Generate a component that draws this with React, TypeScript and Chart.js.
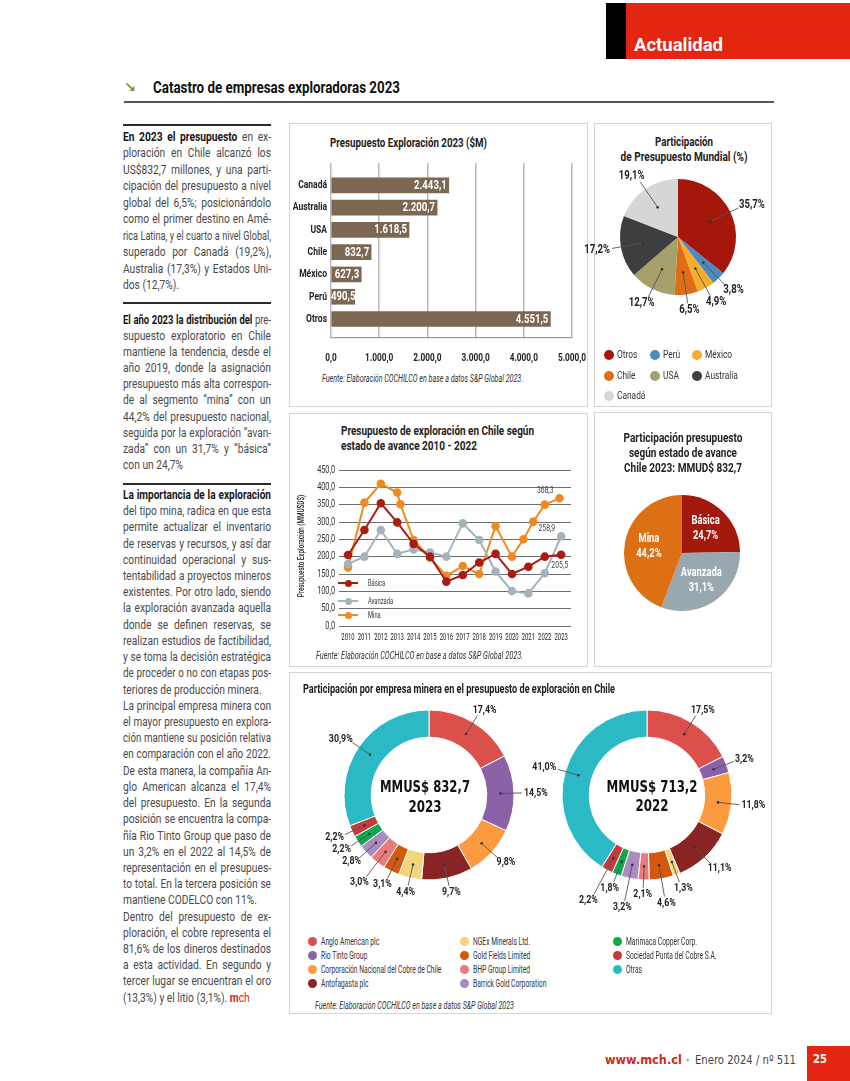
import React, { useEffect, useRef } from "react";
import { Chart, registerables } from "chart.js";
Chart.register(...registerables);

// ---------------- DATA ----------------
const barCountries = ["Canadá", "Australia", "USA", "Chile", "México", "Perú", "Otros"];
const barValues = [2443.1, 2200.7, 1618.5, 832.7, 627.3, 490.5, 4551.5];
const barTicks = [0, 1000, 2000, 3000, 4000, 5000];

const worldLabels = ["Otros", "Perú", "México", "Chile", "USA", "Australia", "Canadá"];
const worldShares = [35.7, 3.8, 4.9, 6.5, 12.7, 17.2, 19.1];
const worldColors = ["#a5170b", "#4a8bc3", "#f5ae2c", "#df6d18", "#a6a06b", "#3e3e3e", "#d6d6d6"];

const lineYears = [2010, 2011, 2012, 2013, 2014, 2015, 2016, 2017, 2018, 2019, 2020, 2021, 2022, 2023];
const basicaValues = [205, 277, 354, 299, 237, 200, 128, 147, 183, 208, 150, 171, 200, 205.5];
const avanzadaValues = [179, 200, 277, 208, 221, 212, 200, 296, 248, 157, 101, 94, 152, 258.9];
const minaYears = [2010, 2011, 2012, 2013, 2013.2, 2014, 2015, 2016, 2017, 2018, 2019, 2020, 2020.7, 2021.3, 2022, 2022.9];
const minaValues = [169, 356, 410, 385, 351, 248, 197, 145, 173, 150, 288, 200, 250, 301, 350, 368.3];
const lineYTicks = [0, 50, 100, 150, 200, 250, 300, 350, 400, 450];
const seriesNames = ["Básica", "Avanzada", "Mina"];
const seriesColors = ["#a81c12", "#a3b3bb", "#ef8a22"];

const stageLabels = ["Básica", "Avanzada", "Mina"];
const stageShares = [24.7, 31.1, 44.2];
const stageColors = ["#a3190c", "#99a7af", "#dd6f15"];

const companyNames = [
  "Anglo American plc",
  "Rio Tinto Group",
  "Corporación Nacional del Cobre de Chile",
  "Antofagasta plc",
  "NGEx Minerals Ltd.",
  "Gold Fields Limited",
  "BHP Group Limited",
  "Barrick Gold Corporation",
  "Marimaca Copper Corp.",
  "Sociedad Punta del Cobre S.A.",
  "Otras",
];
const companyColors = ["#dc504c", "#8b62a6", "#fb9a3f", "#8a2424", "#f2d47b", "#d4590f", "#ea7b7b", "#a98bc0", "#10a84c", "#c33b3b", "#2bb9c5"];
const share2023 = [17.4, 14.5, 9.8, 9.7, 4.4, 3.1, 3.0, 2.8, 2.2, 2.2, 30.9];
const share2022 = [17.5, 3.2, 11.8, 11.1, 1.3, 4.6, 2.1, 3.2, 1.8, 2.2, 41.0];

// ---------------- BODY TEXT ----------------
const para1 = [
  "**En 2023 el presupuesto** en ex-",
  "ploración en Chile alcanzó los",
  "US$832,7 millones, y una parti-",
  "cipación del presupuesto a nivel",
  "global del 6,5%; posicionándolo",
  "como el primer destino en Amé-",
  "rica Latina, y el cuarto a nivel Global,",
  "superado por Canadá (19,2%),",
  "Australia (17,3%) y Estados Uni-",
  "dos (12,7%).",
];
const para2 = [
  "**El año 2023 la distribución del** pre-",
  "supuesto exploratorio en Chile",
  "mantiene la tendencia, desde el",
  "año 2019, donde la asignación",
  "presupuesto más alta correspon-",
  "de al segmento “mina” con un",
  "44,2% del presupuesto nacional,",
  "seguida por la exploración “avan-",
  "zada” con un 31,7% y “básica”",
  "con un 24,7%",
];
const para3 = [
  "**La importancia de la exploración**",
  "del tipo mina, radica en que esta",
  "permite actualizar el inventario",
  "de reservas y recursos, y así dar",
  "continuidad operacional y sus-",
  "tentabilidad a proyectos mineros",
  "existentes. Por otro lado, siendo",
  "la exploración avanzada aquella",
  "donde se definen reservas, se",
  "realizan estudios de factibilidad,",
  "y se toma la decisión estratégica",
  "de proceder o no con etapas pos-",
  "teriores de producción minera.",
  "La principal empresa minera con",
  "el mayor presupuesto en explora-",
  "ción mantiene su posición relativa",
  "en comparación con el año 2022.",
  "De esta manera, la compañía An-",
  "glo American alcanza el 17,4%",
  "del presupuesto. En la segunda",
  "posición se encuentra la compa-",
  "ñía Rio Tinto Group que paso de",
  "un 3,2% en el 2022 al 14,5% de",
  "representación en el presupues-",
  "to total. En la tercera posición se",
  "mantiene CODELCO con 11%.",
  "Dentro del presupuesto de ex-",
  "ploración, el cobre representa el",
  "81,6% de los dineros destinados",
  "a esta actividad. En segundo y",
  "tercer lugar se encuentran el oro",
  "(13,3%) y el litio (3,1%). ##m##%%ch%%",
];
const raggedLines = ["dos (12,7%).", "con un 24,7%", "teriores de producción minera.", "mantiene CODELCO con 11%.", "(13,3%) y el litio (3,1%). ##m##%%ch%%"];

// ---------------- HELPERS ----------------
function fmt(v: number, d = 1) {
  const s = Math.abs(v).toFixed(d);
  const [i, f] = s.split(".");
  const g = i.replace(/\B(?=(\d{3})+(?!\d))/g, ".");
  return (v < 0 ? "-" : "") + (f !== undefined ? g + "," + f : g);
}

let mctx: CanvasRenderingContext2D | null = null;
function measure(text: string, font: string) {
  if (!mctx) mctx = document.createElement("canvas").getContext("2d");
  mctx!.font = font;
  return mctx!.measureText(text).width;
}

function drawCond(ctx: CanvasRenderingContext2D, text: string, x: number, y: number, font: string, color: string, align: CanvasTextAlign, sx: number) {
  ctx.save();
  ctx.translate(x, y);
  ctx.scale(sx, 1);
  ctx.font = font;
  ctx.fillStyle = color;
  ctx.textAlign = align;
  ctx.textBaseline = "middle";
  ctx.fillText(text, 0, 0);
  ctx.restore();
}

type TP = { x: number; y: number; text: string; size: number; weight?: number; color?: string; w?: number; sx?: number; align?: "left" | "center"; italic?: boolean; family?: string };
function T({ x, y, text, size, weight = 400, color = "#222", w, sx = 1, align = "left", italic = false, family = "Roboto" }: TP) {
  const font = `${italic ? "italic " : ""}${weight} ${size}px ${family}`;
  const s = w ? w / measure(text, font) : sx;
  const lh = Math.round(size * 1.25);
  return (
    <div
      style={{
        position: "absolute",
        left: x,
        top: y - lh / 2,
        height: lh,
        lineHeight: lh + "px",
        fontFamily: family,
        fontSize: size,
        fontWeight: weight,
        fontStyle: italic ? "italic" : "normal",
        color,
        whiteSpace: "pre",
        transform: (align === "center" ? "translateX(-50%) " : "") + `scaleX(${s})`,
        transformOrigin: align === "center" ? "50% 50%" : "0 50%",
      }}
    >
      {text}
    </div>
  );
}

type Seg = { t: string; k: "n" | "b" | "rb" | "r" };
function parseLine(src: string): Seg[] {
  const out: Seg[] = [];
  src.split(/(\*\*.*?\*\*|##.*?##|%%.*?%%)/).forEach((p) => {
    if (!p) return;
    if (p.startsWith("**")) out.push({ t: p.slice(2, -2), k: "b" });
    else if (p.startsWith("##")) out.push({ t: p.slice(2, -2), k: "rb" });
    else if (p.startsWith("%%")) out.push({ t: p.slice(2, -2), k: "r" });
    else out.push({ t: p, k: "n" });
  });
  return out;
}
const BODY_SIZE = 12.8;
function segFont(k: string) {
  return `${k === "b" || k === "rb" ? 700 : 400} ${BODY_SIZE}px Roboto`;
}
function JL({ x, y, w, src, lh }: { x: number; y: number; w: number; src: string; lh: number }) {
  const segs = parseLine(src);
  const justify = !raggedLines.includes(src);
  const nat = segs.reduce((a, s) => a + measure(s.t, segFont(s.k)), 0);
  const sc = Math.min(0.8, (w - 1.5) / nat);
  return (
    <div
      style={{
        position: "absolute",
        left: x,
        top: y - lh / 2,
        width: w / sc,
        height: lh,
        lineHeight: lh + "px",
        fontFamily: "Roboto",
        fontSize: BODY_SIZE,
        color: "#4a4a4a",
        textAlign: justify ? "justify" : "left",
        textAlignLast: justify ? "justify" : "left",
        transform: `scaleX(${sc})`,
        transformOrigin: "0 50%",
        whiteSpace: "normal",
      }}
    >
      {segs.map((s, i) => (
        <span
          key={i}
          style={{
            fontWeight: s.k === "b" || s.k === "rb" ? 700 : 400,
            color: s.k === "b" ? "#161616" : s.k === "rb" || s.k === "r" ? "#d8261a" : undefined,
          }}
        >
          {s.t}
        </span>
      ))}
    </div>
  );
}

function ChartCanvas({ left, top, width, height, make }: { left: number; top: number; width: number; height: number; make: () => any }) {
  const ref = useRef<HTMLCanvasElement>(null);
  useEffect(() => {
    const chart = new Chart(ref.current as HTMLCanvasElement, make());
    return () => chart.destroy();
  }, []);
  return (
    <div style={{ position: "absolute", left, top, width, height }}>
      <canvas ref={ref} />
    </div>
  );
}

type TickCfg = { values: number[]; format: (v: number) => string; font: string; color: string; sx: number; offset: number };
function condTicks(cfg: { x?: TickCfg; y?: TickCfg }) {
  return {
    id: "condTicks",
    afterDraw(chart: any) {
      const ctx = chart.ctx;
      const a = chart.chartArea;
      if (cfg.x) {
        const c = cfg.x;
        const sc = chart.scales.x;
        c.values.forEach((v) => drawCond(ctx, c.format(v), sc.getPixelForValue(v), a.bottom + c.offset, c.font, c.color, "center", c.sx));
      }
      if (cfg.y) {
        const c = cfg.y;
        const sc = chart.scales.y;
        c.values.forEach((v) => drawCond(ctx, c.format(v), a.left - c.offset, sc.getPixelForValue(v), c.font, c.color, "right", c.sx));
      }
    },
  };
}

function callouts(values: number[], cfg: { gap: number; font: string; size: number; sx: number; color: string; dotFrac: number }) {
  return {
    id: "callouts",
    afterDatasetsDraw(chart: any) {
      const ctx: CanvasRenderingContext2D = chart.ctx;
      const arcs = chart.getDatasetMeta(0).data;
      const placed: any[] = [];
      ctx.save();
      arcs.forEach((arc: any, i: number) => {
        const p = arc.getProps(["x", "y", "startAngle", "endAngle", "innerRadius", "outerRadius"], true);
        const mid = (p.startAngle + p.endAngle) / 2;
        const c = Math.cos(mid);
        const s = Math.sin(mid);
        const rd = p.innerRadius > 0 ? (p.innerRadius + p.outerRadius) / 2 : p.outerRadius * cfg.dotFrac;
        const label = fmt(values[i]) + "%";
        ctx.font = cfg.font;
        const tw = ctx.measureText(label).width * cfg.sx;
        const th = cfg.size * 0.8;
        let r1 = p.outerRadius + cfg.gap;
        let box: any = null;
        for (let k = 0; k < 14; k++) {
          const cx = p.x + c * (r1 + 2) + (c * tw) / 2;
          const cy = p.y + s * (r1 + 2) + (s * th) / 2;
          box = { x0: cx - tw / 2 - 1, x1: cx + tw / 2 + 1, y0: cy - th / 2 - 1, y1: cy + th / 2 + 1, cx, cy };
          if (!placed.some((b) => b.x0 < box.x1 && box.x0 < b.x1 && b.y0 < box.y1 && box.y0 < b.y1)) break;
          r1 += 5;
        }
        placed.push(box);
        ctx.strokeStyle = "#555";
        ctx.lineWidth = 0.9;
        ctx.beginPath();
        ctx.moveTo(p.x + c * rd, p.y + s * rd);
        ctx.lineTo(p.x + c * r1, p.y + s * r1);
        ctx.stroke();
        ctx.fillStyle = "#333";
        ctx.beginPath();
        ctx.arc(p.x + c * rd, p.y + s * rd, 1.3, 0, Math.PI * 2);
        ctx.fill();
        drawCond(ctx, label, box.cx, box.cy, cfg.font, cfg.color, "center", cfg.sx);
      });
      ctx.restore();
    },
  };
}

// ---------------- CHART CONFIGS ----------------
function barConfig() {
  return {
    type: "bar",
    data: {
      datasets: [
        {
          data: barValues.map((v, i) => ({ x: v, y: i })),
          backgroundColor: "#7b6752",
          borderWidth: 0,
          barThickness: 15,
        },
      ],
    },
    options: {
      indexAxis: "y",
      animation: false,
      responsive: true,
      maintainAspectRatio: false,
      layout: { padding: { top: 5, right: 16, left: 0, bottom: 0 } },
      plugins: { legend: { display: false }, tooltip: { enabled: false } },
      scales: {
        x: {
          type: "linear",
          min: 0,
          max: 5000,
          ticks: { display: false, stepSize: 1000 },
          afterFit: (s: any) => {
            s.height = 32;
          },
          grid: { color: "#b8b8b8", lineWidth: 1.5, drawTicks: false },
          border: { display: true, color: "#9c9c9c", width: 1.2 },
        },
        y: {
          type: "linear",
          reverse: true,
          min: -0.44,
          max: 6.29,
          ticks: { display: false },
          afterFit: (s: any) => {
            s.width = 43;
          },
          grid: { display: false },
          border: { display: false },
        },
      },
    },
    plugins: [
      condTicks({
        x: { values: barTicks, format: (v) => fmt(v), font: "700 11.5px Roboto", color: "#222", sx: 0.72, offset: 20 },
        y: { values: barCountries.map((_, i) => i), format: (v) => barCountries[v], font: "700 11.5px Roboto", color: "#222", sx: 0.74, offset: 4 },
      }),
      {
        id: "barValueLabels",
        afterDatasetsDraw(chart: any) {
          const ctx = chart.ctx;
          const left = chart.chartArea.left;
          const font = "700 12px Roboto";
          chart.getDatasetMeta(0).data.forEach((bar: any, i: number) => {
            const txt = fmt(barValues[i]);
            ctx.font = font;
            const tw = ctx.measureText(txt).width * 0.8;
            const xr = Math.max(bar.x - 2, left + tw);
            drawCond(ctx, txt, xr, bar.y + 0.5, font, "#fff", "right", 0.8);
          });
        },
      },
    ],
  };
}

function worldPieConfig() {
  return {
    type: "pie",
    data: { labels: worldLabels, datasets: [{ data: worldShares, backgroundColor: worldColors, borderWidth: 0 }] },
    options: {
      animation: false,
      responsive: true,
      maintainAspectRatio: false,
      radius: 58,
      plugins: { legend: { display: false }, tooltip: { enabled: false } },
    },
    plugins: [callouts(worldShares, { gap: 9, font: "700 12px Roboto", size: 12, sx: 0.8, color: "#222", dotFrac: 0.62 })],
  };
}

function lineConfig() {
  const ds = (i: number, xs: number[], ys: number[]) => ({
    label: seriesNames[i],
    data: xs.map((x, k) => ({ x, y: ys[k] })),
    borderColor: seriesColors[i],
    backgroundColor: seriesColors[i],
    pointBackgroundColor: seriesColors[i],
    pointBorderColor: seriesColors[i],
    pointRadius: 3.3,
    borderWidth: 2,
    tension: 0,
  });
  const endPos = ["below", "above", "above"];
  return {
    type: "line",
    data: {
      datasets: [ds(0, lineYears, basicaValues), ds(1, lineYears, avanzadaValues), ds(2, minaYears, minaValues)],
    },
    options: {
      animation: false,
      responsive: true,
      maintainAspectRatio: false,
      layout: { padding: { top: 8, right: 17, left: 0, bottom: 0 } },
      plugins: { legend: { display: false }, tooltip: { enabled: false } },
      scales: {
        x: {
          type: "linear",
          min: 2009.45,
          max: 2023.6,
          ticks: { display: false },
          afterFit: (s: any) => {
            s.height = 26;
          },
          grid: { display: false },
          border: { display: false },
        },
        y: {
          min: 0,
          max: 450,
          ticks: { display: false, stepSize: 50 },
          afterFit: (s: any) => {
            s.width = 51;
          },
          grid: { color: "#6e6e6e", lineWidth: 1, drawTicks: false },
          border: { display: false },
        },
      },
    },
    plugins: [
      condTicks({
        x: { values: lineYears, format: (v) => String(v), font: "400 9px Roboto", color: "#222", sx: 0.66, offset: 12 },
        y: { values: lineYTicks, format: (v) => fmt(v), font: "400 10px Roboto", color: "#333", sx: 0.73, offset: 4 },
      }),
      {
        id: "endLabels",
        afterDatasetsDraw(chart: any) {
          chart.data.datasets.forEach((d: any, i: number) => {
            const meta = chart.getDatasetMeta(i);
            const last = meta.data.length - 1;
            const el = meta.data[last];
            const txt = fmt(d.data[last].y);
            if (endPos[i] === "above") drawCond(chart.ctx, txt, el.x - 6, el.y - 7, "400 8.5px Roboto", "#444", "right", 0.8);
            else drawCond(chart.ctx, txt, el.x - 1.5, el.y + 11, "400 8.5px Roboto", "#444", "center", 0.8);
          });
        },
      },
    ],
  };
}

function stagePieConfig() {
  return {
    type: "pie",
    data: { labels: stageLabels, datasets: [{ data: stageShares, backgroundColor: stageColors, borderWidth: 0 }] },
    options: {
      animation: false,
      responsive: true,
      maintainAspectRatio: false,
      radius: 58,
      plugins: { legend: { display: false }, tooltip: { enabled: false } },
    },
    plugins: [
      {
        id: "innerLabels",
        afterDatasetsDraw(chart: any) {
          chart.getDatasetMeta(0).data.forEach((arc: any, i: number) => {
            const p = arc.getProps(["x", "y", "startAngle", "endAngle", "outerRadius"], true);
            const mid = (p.startAngle + p.endAngle) / 2;
            const cx = p.x + Math.cos(mid) * p.outerRadius * 0.58;
            const cy = p.y + Math.sin(mid) * p.outerRadius * 0.58;
            drawCond(chart.ctx, stageLabels[i], cx, cy - 7.5, "700 12px Roboto", "#fff", "center", 0.78);
            drawCond(chart.ctx, fmt(stageShares[i]) + "%", cx, cy + 7.5, "700 12px Roboto", "#fff", "center", 0.78);
          });
        },
      },
    ],
  };
}

function donutConfig(values: number[]) {
  return {
    type: "doughnut",
    data: { labels: companyNames, datasets: [{ data: values, backgroundColor: companyColors, borderColor: "#ffffff", borderWidth: 1 }] },
    options: {
      animation: false,
      responsive: true,
      maintainAspectRatio: false,
      radius: 85,
      cutout: "68%",
      plugins: { legend: { display: false }, tooltip: { enabled: false } },
    },
    plugins: [callouts(values, { gap: 8, font: "700 11px Roboto", size: 11, sx: 0.8, color: "#222", dotFrac: 0.6 })],
  };
}

// ---------------- PAGE ----------------
const boxStyle = (left: number, top: number, width: number, height: number): React.CSSProperties => ({
  position: "absolute",
  left,
  top,
  width,
  height,
  border: "1px solid #d4d4d4",
  boxSizing: "border-box",
});

function Dot({ x, y, color, d = 10 }: { x: number; y: number; color: string; d?: number }) {
  return <div style={{ position: "absolute", left: x - d / 2, top: y - d / 2, width: d, height: d, borderRadius: "50%", background: color }} />;
}

export default function App() {
  const leftX = 123;
  const colW = 148;
  return (
    <div style={{ position: "absolute", left: 0, top: 0, width: 850, height: 1081, background: "#fff", overflow: "hidden", fontFamily: "Roboto" }}>
      {/* header tab */}
      <div style={{ position: "absolute", left: 606, top: 3, width: 20, height: 56, background: "#000" }} />
      <div style={{ position: "absolute", left: 626, top: 3, width: 224, height: 56, background: "#e32612" }} />
      <T x={634} y={44} text="Actualidad" size={18} weight={700} color="#fff" w={89} />

      {/* section title */}
      <T x={124} y={87} text="↘" size={14} weight={700} color="#8e8a3a" w={12} family='"DejaVu Sans"' />
      <T x={152.6} y={88} text="Catastro de empresas exploradoras 2023" size={16} weight={700} color="#111" w={247} />
      <div style={{ position: "absolute", left: 124, top: 101, width: 650, height: 2, background: "#555" }} />

      {/* body text */}
      {[124, 302, 483].map((y) => (
        <div key={y} style={{ position: "absolute", left: leftX, top: y, width: colW, height: 2, background: "#2a2a2a" }} />
      ))}
      {para1.map((l, i) => (
        <JL key={"a" + i} x={leftX} y={137 + i * 16.5} w={colW} src={l} lh={16.5} />
      ))}
      {para2.map((l, i) => (
        <JL key={"b" + i} x={leftX} y={320 + i * 16.1} w={colW} src={l} lh={16.1} />
      ))}
      {para3.map((l, i) => (
        <JL key={"c" + i} x={leftX} y={495 + i * 16.22} w={colW} src={l} lh={16.22} />
      ))}

      {/* frames */}
      <div style={boxStyle(289, 123, 299, 284)} />
      <div style={boxStyle(594, 123, 178, 284)} />
      <div style={boxStyle(289, 413, 299, 254)} />
      <div style={boxStyle(594, 412, 178, 255)} />
      <div style={boxStyle(289, 672, 483, 342)} />

      {/* bar chart */}
      <T x={330} y={142} text="Presupuesto Exploración 2023 ($M)" size={13.5} weight={700} color="#222" w={157} />
      <ChartCanvas left={288} top={158} width={300} height={212} make={barConfig} />
      <T x={322} y={378} text="Fuente: Elaboración COCHILCO en base a datos S&P Global 2023." size={10} italic color="#333" w={201} />

      {/* world pie */}
      <T x={684} y={142} text="Participación" size={13} weight={700} color="#222" w={58} align="center" />
      <T x={684} y={157} text="de Presupuesto Mundial (%)" size={13} weight={700} color="#222" w={127} align="center" />
      <ChartCanvas left={570} top={152} width={216} height={170} make={worldPieConfig} />
      {worldLabels.map((l, k) => {
        const mx = [609, 655, 697][k % 3];
        const my = [355, 376, 396][Math.floor(k / 3)];
        return (
          <React.Fragment key={l}>
            <Dot x={mx} y={my} color={worldColors[k]} d={10} />
            <T x={mx + 8} y={my} text={l} size={11} color="#333" sx={0.76} />
          </React.Fragment>
        );
      })}

      {/* line chart */}
      <T x={341} y={431} text="Presupuesto de exploración en Chile según" size={13} weight={700} color="#222" w={193} />
      <T x={341} y={446} text="estado de avance 2010 - 2022" size={13} weight={700} color="#222" w={136} />
      <ChartCanvas left={288} top={462} width={300} height={190} make={lineConfig} />
      <div
        style={{
          position: "absolute",
          left: 301,
          top: 546,
          fontFamily: "Roboto",
          fontSize: 8.5,
          fontWeight: 500,
          color: "#222",
          whiteSpace: "pre",
          lineHeight: "10px",
          transform: "translate(-50%, -50%) rotate(-90deg) scaleX(0.74)",
        }}
      >
        Presupuesto Exploración (MMUSD$)
      </div>
      {seriesNames.map((n, i) => {
        const y = [583, 601, 615][i];
        return (
          <React.Fragment key={n}>
            <div style={{ position: "absolute", left: 338, top: y - 1, width: 20, height: 2, background: seriesColors[i] }} />
            <Dot x={348} y={y} color={seriesColors[i]} d={7} />
            <T x={368} y={y} text={n} size={9} color="#333" sx={0.64} />
          </React.Fragment>
        );
      })}
      <T x={316} y={655} text="Fuente: Elaboración COCHILCO en base a datos S&P Global 2023." size={10} italic color="#333" w={207} />

      {/* stage pie */}
      <T x={683} y={438} text="Participación presupuesto" size={13} weight={700} color="#222" w={119} align="center" />
      <T x={683} y={453} text="según estado de avance" size={13} weight={700} color="#222" w={108} align="center" />
      <T x={683} y={468} text="Chile 2023: MMUD$ 832,7" size={13} weight={700} color="#222" w={118} align="center" />
      <ChartCanvas left={588} top={483} width={188} height={140} make={stagePieConfig} />

      {/* donuts */}
      <T x={303} y={689} text="Participación por empresa minera en el presupuesto de exploración en Chile" size={13} weight={700} color="#1a1a1a" w={312} />
      <ChartCanvas left={289} top={675} width={280} height={240} make={() => donutConfig(share2023)} />
      <ChartCanvas left={517} top={675} width={260} height={240} make={() => donutConfig(share2022)} />
      <T x={425} y={787} text="MMUS$ 832,7" size={15} weight={700} color="#111" w={90} align="center" family='"DejaVu Sans"' />
      <T x={425} y={807} text="2023" size={15} weight={700} color="#111" w={33} align="center" family='"DejaVu Sans"' />
      <T x={652} y={787} text="MMUS$ 713,2" size={15} weight={700} color="#111" w={91} align="center" family='"DejaVu Sans"' />
      <T x={652} y={806} text="2022" size={15} weight={700} color="#111" w={33} align="center" family='"DejaVu Sans"' />
      {companyNames.map((n, k) => {
        const mx = [312, 464, 617][Math.floor(k / 4)];
        const my = [941, 955, 969, 983][k % 4];
        return (
          <React.Fragment key={n}>
            <Dot x={mx} y={my} color={companyColors[k]} d={9} />
            <T x={mx + 9} y={my} text={n} size={10.5} color="#333" sx={0.64} />
          </React.Fragment>
        );
      })}
      <T x={315} y={1005} text="Fuente: Elaboración COCHILCO en base a datos S&P Global 2023" size={10} italic color="#333" w={199} />

      {/* footer */}
      <T x={605} y={1060} text="www.mch.cl" size={13} weight={700} color="#d42a1c" w={77} family='"DejaVu Sans"' />
      <T x={686} y={1060} text="•" size={10} color="#999" />
      <T x={695} y={1060} text="Enero 2024 / nº 511" size={13} color="#444" w={101} family='"DejaVu Sans"' />
      <div style={{ position: "absolute", left: 807, top: 1046, width: 43, height: 35, background: "#e32612" }} />
      <T x={813} y={1059} text="25" size={12} weight={700} color="#fff" w={14} family='"DejaVu Sans"' />
    </div>
  );
}
